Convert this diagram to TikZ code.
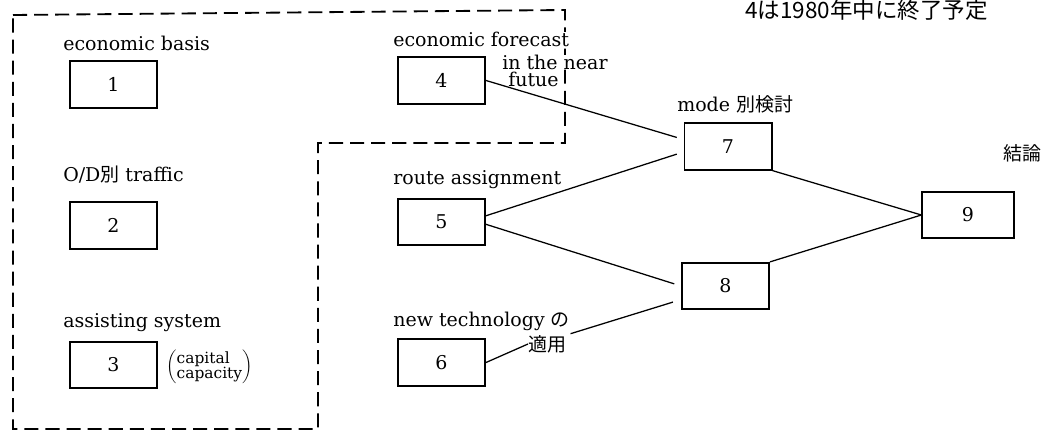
\documentclass[tikz,border=0pt]{standalone}
\usepackage{fontspec}
\setmainfont{DejaVu Serif}
\newfontfamily\jp{Noto Sans CJK JP}
\begin{document}
\begin{tikzpicture}[x=0.025cm,y=-0.025cm,
		font=\fontsize{13.5}{16}\selectfont,
		numbox/.style={draw,line width=1.3pt,minimum width=62pt,minimum height=33pt,inner sep=0pt},
		lbl/.style={anchor=west,inner sep=0pt,fill=white},
		link/.style={line width=0.9pt},
		frame/.style={line width=1.3pt,dash pattern=on 10pt off 5pt}]
				\useasboundingbox (0,0) rectangle (1050,432);
				\coordinate (F1) at (13,15);
				\coordinate (F2) at (565,10);
				\coordinate (F3) at (565,143);
				\coordinate (F4) at (318,143);
				\coordinate (F5) at (318,429);
				\coordinate (F6) at (13,429);
				\draw [frame] (F1) -- (F2) -- (F3) -- (F4) -- (F5) -- (F6) -- cycle;
				\node [numbox] (b1) at (113.5,84.5) {1};
				\node [numbox] (b2) at (113.5,225.5) {2};
				\node [numbox] (b3) at (113.5,365) {3};
				\node [numbox] (b4) at (441.5,80.5) {4};
				\node [numbox] (b5) at (441.5,222) {5};
				\node [numbox] (b6) at (441.5,362.5) {6};
				\node [numbox] (b7) at (728,146.5) {7};
				\node [numbox] (b8) at (725.5,286) {8};
				\node [numbox, minimum width=65pt] (b9) at (968,215) {9};
				\node [lbl] (apply) at (528,344) {\jp 適用};
				\draw [link, shorten >=5pt] (b4.east) -- (b7.171);
				\draw [link, shorten >=5pt] (b5.8) -- (b7.187);
				\draw [link, shorten >=5pt] (b5.-3) -- (b8.west);
				\draw [link] (b6.east) -- (apply.west);
				\draw [link, shorten <=3pt, shorten >=6pt] (apply.north east) -- (b8.197);
				\draw [link] (b7.south east) -- (b9.west);
				\draw [link] (b8.north east) -- (b9.west);
				\node [lbl] (basis) at (63,43) {economic basis};
				\node [lbl] (odtraffic) at (63,175) {O/D{\jp 別} traffic};
				\node [lbl] (assist) at (63,323) {assisting system};
				\node [lbl, fill=none] (capnote) at (166,367) {\fontsize{11}{11}\selectfont$\left(\renewcommand\arraystretch{0.7}\begin{tabular}{@{}l@{}}capital\\capacity\end{tabular}\right)$};
				\node [lbl] (forecast) at (393,39) {economic forecast};
				\node [lbl] (near) at (502,62) {in the near};
				\node [lbl] (futue) at (508,79) {futue};
				\node [lbl] (route) at (393,180) {route assignment};
				\node [lbl] (newtech) at (393,321) {new technology {\jp の}};
				\node [lbl] (mode) at (677,104) {mode {\jp 別検討}};
				\node [lbl] (concl) at (1003,153) {\jp 結論};
				\node [lbl] (note) at (745,10) {\jp\fontsize{16}{16}\selectfont 4は1980年中に終了予定};
			\end{tikzpicture}
\end{document}
